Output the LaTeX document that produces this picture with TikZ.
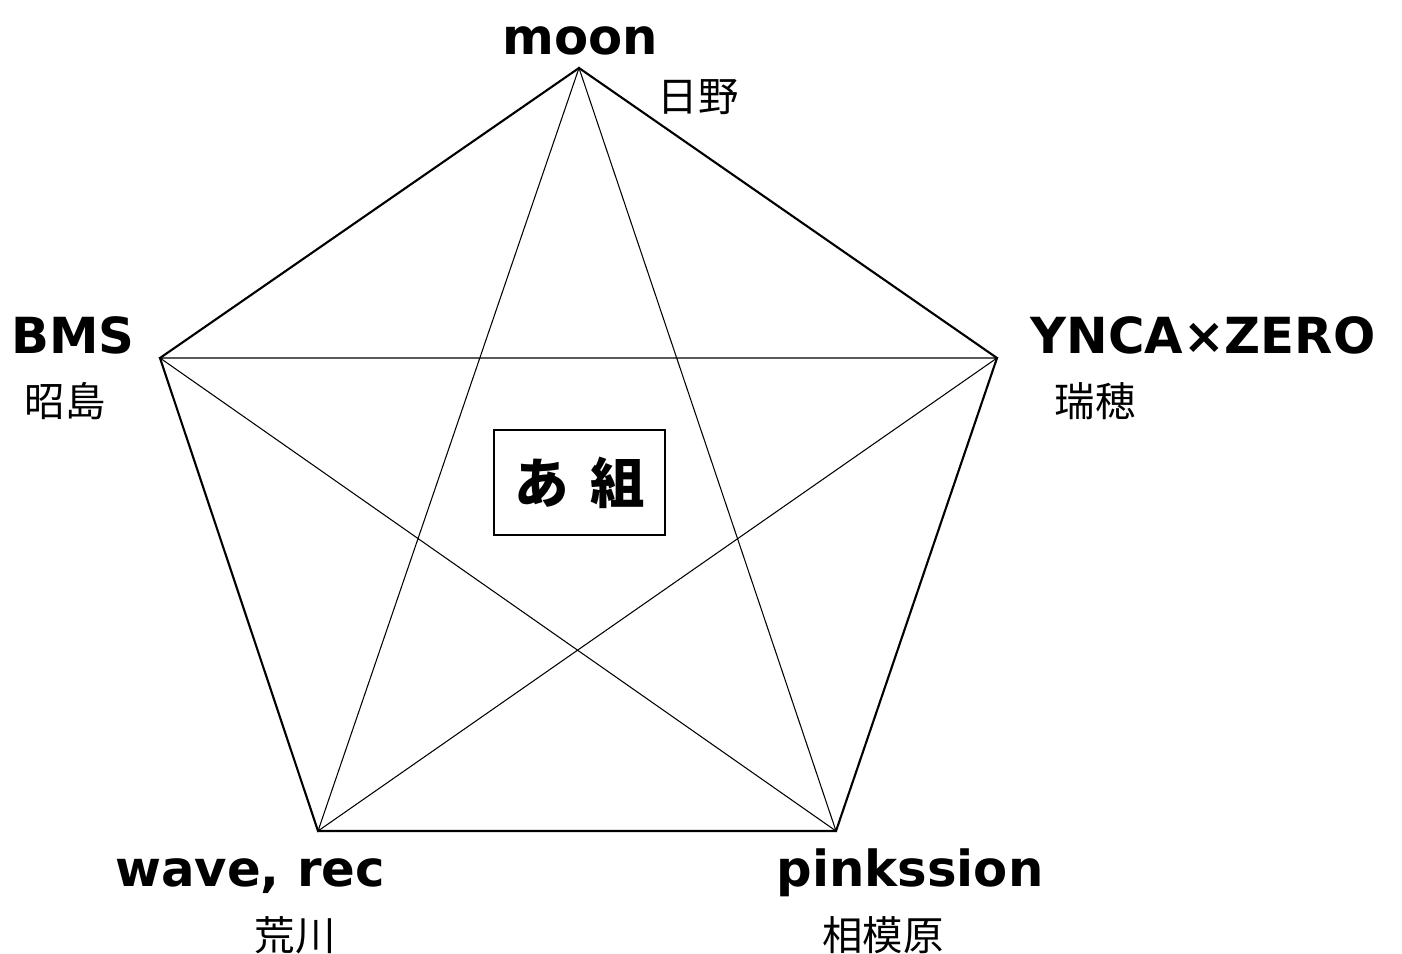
\documentclass[tikz,border=0pt]{standalone}
\usepackage{fontspec}
\setmainfont{DejaVu Sans}
\newfontfamily\jpfont{Noto Sans CJK JP}
\tikzset{
    team/.style={anchor=base, font=\fontsize{28.3}{30}\selectfont\bfseries},
    town/.style={font=\jpfont\fontsize{23}{26}\selectfont},
    edge/.style={line width=1.2pt},
    chord/.style={line width=0.6pt},
}
\begin{document}
\begin{tikzpicture}[x=0.02cm, y=-0.02cm]

    \useasboundingbox (0,0) rectangle (1402,953);

    % Corners of the pentagon
    \coordinate (moon) at (579,68);
    \coordinate (bms) at (160,358);
    \coordinate (ynca) at (997,358);
    \coordinate (wave) at (318,831);
    \coordinate (pink) at (836,831);

    % Star inside
    \draw[chord] (moon) -- (wave) -- (ynca) -- (bms) -- (pink) -- cycle;

    % Outline
    \draw[edge, line join=miter] (moon) -- (ynca) -- (pink) -- (wave) -- (bms) -- cycle;

    % Team names
    \node[team] (moonname) at (580,55) {moon};
    \node[team] (bmsname) at (73,353) {BMS};
    \node[team] (yncaname) at (1203,353) {YNCA×ZERO};
    \node[team] (wavename) at (250,886) {wave, rec};
    \node[team] (pinkname) at (910,886) {pinkssion};

    % Towns
    \node[town] (hino) at (698,97) {日野};
    \node[town] (akishima) at (65,401) {昭島};
    \node[town] (mizuho) at (1095,401) {瑞穂};
    \node[town] (arakawa) at (295,935) {荒川};
    \node[town] (sagamihara) at (883,935) {相模原};

    % Group box
    \node[draw, line width=0.8pt, fill=white, minimum width=171*0.02cm, minimum height=105*0.02cm,
          font=\jpfont\bfseries\fontsize{31}{34}\selectfont] (group) at (579.5,482.5) {あ\hspace{0.18cm} 組};

\end{tikzpicture}
\end{document}
